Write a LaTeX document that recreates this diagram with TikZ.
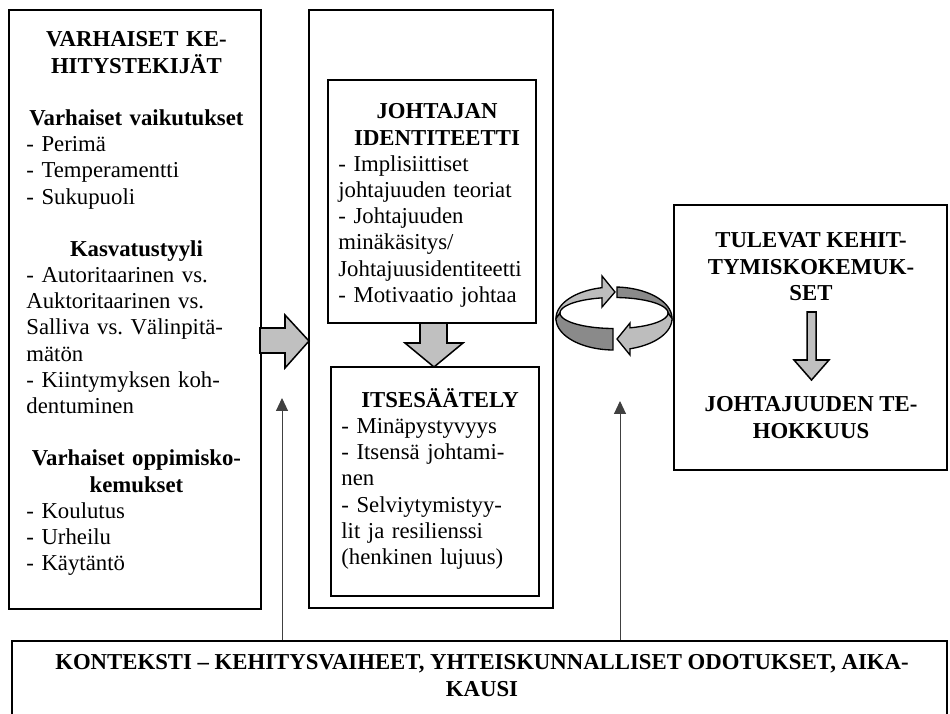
\documentclass[tikz,border=0pt]{standalone}
\usepackage{fontspec}
\setmainfont{Liberation Serif}
\usetikzlibrary{positioning,fit,arrows.meta}

\definecolor{arrowgray}{HTML}{C0C0C0}
\definecolor{ringlight}{HTML}{BDBDBD}
\definecolor{ringdark}{HTML}{8A8A8A}

\newcommand{\gap}{\par\vspace{13.8pt}}

\tikzset{
    frame/.style={draw, line width=1pt, inner sep=0pt},
    boxtext/.style={inner sep=0pt, text width=#1, align=left,
        font=\fontsize{12}{13.8}\selectfont\frenchspacing},
    headtext/.style={inner sep=0pt, align=center,
        font=\fontsize{12}{13.8}\selectfont\bfseries},
    blockarrow/.style={draw, line width=0.8pt, fill=arrowgray},
    thinarrow/.style={draw=black!75, line width=0.5pt,
        -{Triangle[length=6.8pt,width=6.3pt]}},
    ringpart/.style={draw, line width=0.7pt, fill=#1}
}

\begin{document}
\begin{tikzpicture}[x=0.01852cm, y=-0.01852cm]
    \useasboundingbox (0,0) rectangle (950,714);
    \clip (0,0) rectangle (950,714);

    % frames
    \node[frame, fit={(9,10) (261,609)}] (early) {};
    \node[frame, fit={(309,10) (553,608)}] (leader) {};
    \node[frame, fit={(328,80) (536,323)}] (identity) {};
    \node[frame, fit={(331,367) (539,596)}] (selfreg) {};
    \node[frame, fit={(674,205) (947,470)}] (future) {};
    \node[frame, fit={(12,641) (947,740)}] (context) {};

    % texts
    \node[boxtext=116pt, anchor=north west] (earlytxt) at (26,31.5) {%
        {\centering\bfseries VARHAISET KE-\\HITYSTEKIJÄT\par}
        \gap
        {\centering\bfseries Varhaiset vaikutukset\par}
        - Perimä\\
        - Temperamentti\\
        - Sukupuoli
        \gap
        {\centering\bfseries Kasvatustyyli\par}
        - Autoritaarinen vs.\\
        Auktoritaarinen vs.\\
        Salliva vs. Välinpitä-\\
        mätön\\
        - Kiintymyksen koh-\\
        dentuminen
        \gap
        {\centering\bfseries Varhaiset oppimisko-\\kemukset\par}
        - Koulutus\\
        - Urheilu\\
        - Käytäntö};

    \node[boxtext=104pt, anchor=north west] (identitytxt) at (338,103.5) {%
        {\centering\bfseries JOHTAJAN\\IDENTITEETTI\par}
        - Implisiittiset\\
        johtajuuden teoriat\\
        - Johtajuuden\\
        minäkäsitys/\\
        Johtajuusidentiteetti\\
        - Motivaatio johtaa};

    \node[boxtext=104pt, anchor=north west] (selfregtxt) at (341,388) {%
        {\centering\bfseries ITSESÄÄTELY\par}
        - Minäpystyvyys\\
        - Itsensä johtami-\\
        nen\\
        - Selviytymistyy-\\
        lit ja resilienssi\\
        (henkinen lujuus)};

    \node[headtext, anchor=north] (futuretxt) at (811,232.5)
        {TULEVAT KEHIT-\\TYMISKOKEMUK-\\SET};
    \node[headtext, anchor=north] (effecttxt) at (811,396.5)
        {JOHTAJUUDEN TE-\\HOKKUUS};

    \node[headtext, anchor=north] (contexttxt) at (482,654.5)
        {KONTEKSTI – KEHITYSVAIHEET, YHTEISKUNNALLISET ODOTUKSET, AIKA-\\KAUSI};

    % block arrows
    \draw[blockarrow] (260,328) -- (285,328) -- (285,315) -- (309,341)
        -- (285,368) -- (285,353) -- (260,353) -- cycle;
    \draw[blockarrow] (420,323) -- (447,323) -- (447,343) -- (463,343)
        -- (434,367) -- (405,343) -- (420,343) -- cycle;
    \draw[blockarrow] (807,312) -- (816,312) -- (816,360) -- (829,360)
        -- (811.5,380) -- (794,360) -- (807,360) -- cycle;

    % ring
    \draw[ringpart=ringlight]
        plot[domain=180:101.9, samples=30] ({614+58*cos(\x)},{318.5-31.5*sin(\x)})
        -- (602,276) -- (615,292) -- (602,307)
        -- plot[domain=102.8:180, samples=30] ({614+54*cos(\x)},{313-15.5*sin(\x)})
        -- cycle;
    \draw[ringpart=ringdark]
        plot[domain=87:0, samples=30] ({614+58*cos(\x)},{318.5-31.5*sin(\x)})
        -- plot[domain=0:86.8, samples=30] ({614+54*cos(\x)},{313-15.5*sin(\x)})
        -- cycle;
    \draw[ringpart=ringdark]
        plot[domain=180:269, samples=30] ({614+58*cos(\x)},{318.5-31.5*sin(\x)})
        -- plot[domain=268.9:180, samples=30] ({614+54*cos(\x)},{313-15.5*sin(\x)})
        -- cycle;
    \draw[ringpart=ringlight]
        plot[domain=360:286, samples=30] ({614+58*cos(\x)},{318.5-31.5*sin(\x)})
        -- (630,355) -- (617,339) -- (630,323)
        -- plot[domain=287.2:360, samples=30] ({614+54*cos(\x)},{313-15.5*sin(\x)})
        -- cycle;

    % context arrows
    \coordinate (tipL) at (282,398);
    \coordinate (tipR) at (620,401);
    \draw[thinarrow] (tipL |- context.north) -- (tipL);
    \draw[thinarrow] (tipR |- context.north) -- (tipR);
\end{tikzpicture}
\end{document}
